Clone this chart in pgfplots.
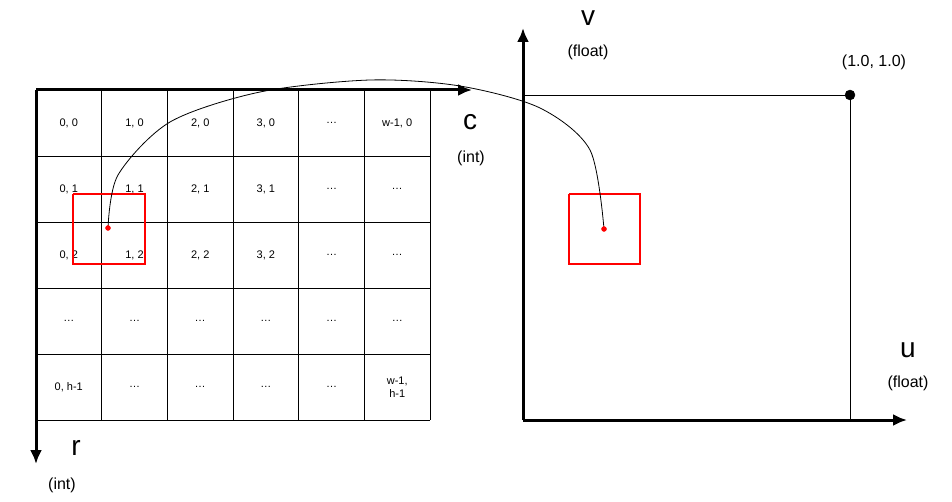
\documentclass[border=0pt]{standalone}
\usepackage{pgfplots}
\pgfplotsset{compat=1.18}
\usetikzlibrary{arrows.meta}
\usepackage{fontspec}
\setmainfont{Liberation Sans}
\begin{document}
\begin{tikzpicture}
\begin{axis}[name=ax,x=1pt,y=1pt,xmin=0,xmax=952,ymin=0,ymax=502,y dir=reverse,
  axis lines=none,clip=false,scale only axis,width=952pt,height=502pt]
% grid
\foreach \x in {36,101.7,167.3,233,298.7,364.3,430}{
  \edef\tmp{\noexpand\addplot[black,line width=0.9pt] coordinates {(\x,90) (\x,420)};}\tmp}
\foreach \y in {156,222,288,354,420}{
  \edef\tmp{\noexpand\addplot[black,line width=0.9pt] coordinates {(36,\y) (430,\y)};}\tmp}
% left axes
\addplot[black,line width=3pt,-{Latex[length=14pt,width=12pt]}] coordinates {(36,90) (472,90)};
\addplot[black,line width=3pt,-{Latex[length=14pt,width=12pt]}] coordinates {(36,90) (36,464)};
% cell labels
\pgfplotsinvokeforeach{0,1,2,3}{
 \node[font=\fontsize{11}{13}\selectfont] at (axis cs:{68.8+#1*65.7},123) {#1, 0};
 \node[font=\fontsize{11}{13}\selectfont] at (axis cs:{68.8+#1*65.7},189) {#1, 1};
 \node[font=\fontsize{11}{13}\selectfont] at (axis cs:{68.8+#1*65.7},255) {#1, 2};
}
\node[font=\fontsize{11}{13}\selectfont] at (axis cs:331.5,123) {…};
\node[font=\fontsize{11}{13}\selectfont] at (axis cs:397.2,123) {w-1, 0};
\node[font=\fontsize{11}{13}\selectfont] at (axis cs:331.5,189) {…};
\node[font=\fontsize{11}{13}\selectfont] at (axis cs:397.2,189) {…};
\node[font=\fontsize{11}{13}\selectfont] at (axis cs:331.5,255) {…};
\node[font=\fontsize{11}{13}\selectfont] at (axis cs:397.2,255) {…};
\pgfplotsinvokeforeach{0,1,2,3,4,5}{
 \node[font=\fontsize{11}{13}\selectfont] at (axis cs:{68.8+#1*65.7},321) {…};
}
\node[font=\fontsize{11}{13}\selectfont] at (axis cs:68.8,387) {0, h-1};
\pgfplotsinvokeforeach{1,2,3,4}{
 \node[font=\fontsize{11}{13}\selectfont] at (axis cs:{68.8+#1*65.7},387) {…};
}
\node[font=\fontsize{11}{13}\selectfont,align=center] at (axis cs:397.2,387) {w-1,\\h-1};
% left labels
\node[font=\fontsize{28}{30}\selectfont] at (axis cs:470,122) {c};
\node[font=\fontsize{16}{18}\selectfont] at (axis cs:471,158) {(int)};
\node[font=\fontsize{28}{30}\selectfont] at (axis cs:76,448) {r};
\node[font=\fontsize{16}{18}\selectfont] at (axis cs:62,485) {(int)};
% right
\addplot[black,line width=3pt,-{Latex[length=14pt,width=12pt]}] coordinates {(523,420) (523,28)};
\addplot[black,line width=3pt,-{Latex[length=14pt,width=12pt]}] coordinates {(523,420) (907,420)};
\addplot[black,line width=0.9pt] coordinates {(523,95) (850,95) (850,420)};
\addplot[black,only marks,mark=*,mark size=5pt] coordinates {(850,95)};
\node[font=\fontsize{16}{18}\selectfont] at (axis cs:874,62) {(1.0, 1.0)};
\node[font=\fontsize{28}{30}\selectfont] at (axis cs:588,18) {v};
\node[font=\fontsize{16}{18}\selectfont] at (axis cs:588,52) {(float)};
\node[font=\fontsize{28}{30}\selectfont] at (axis cs:908,350) {u};
\node[font=\fontsize{16}{18}\selectfont] at (axis cs:908,383) {(float)};
% red squares
\addplot[red,line width=2pt] coordinates {(73,194) (145,194) (145,264) (73,264) (73,194)};
\addplot[red,line width=2pt] coordinates {(569,194) (640,194) (640,264) (569,264) (569,194)};
% curve
\addplot[black,line width=0.8pt,smooth] coordinates {(108,228) (118,175) (170,122) (260,92) (370,80) (460,86) (540,108) (590,150) (604,229)};
\addplot[red,only marks,mark=*,mark size=2.5pt] coordinates {(108,228) (604,229)};
\end{axis}
\pgfresetboundingbox
\path[use as bounding box] (ax.south west) rectangle (ax.north east);
\end{tikzpicture}
\end{document}
